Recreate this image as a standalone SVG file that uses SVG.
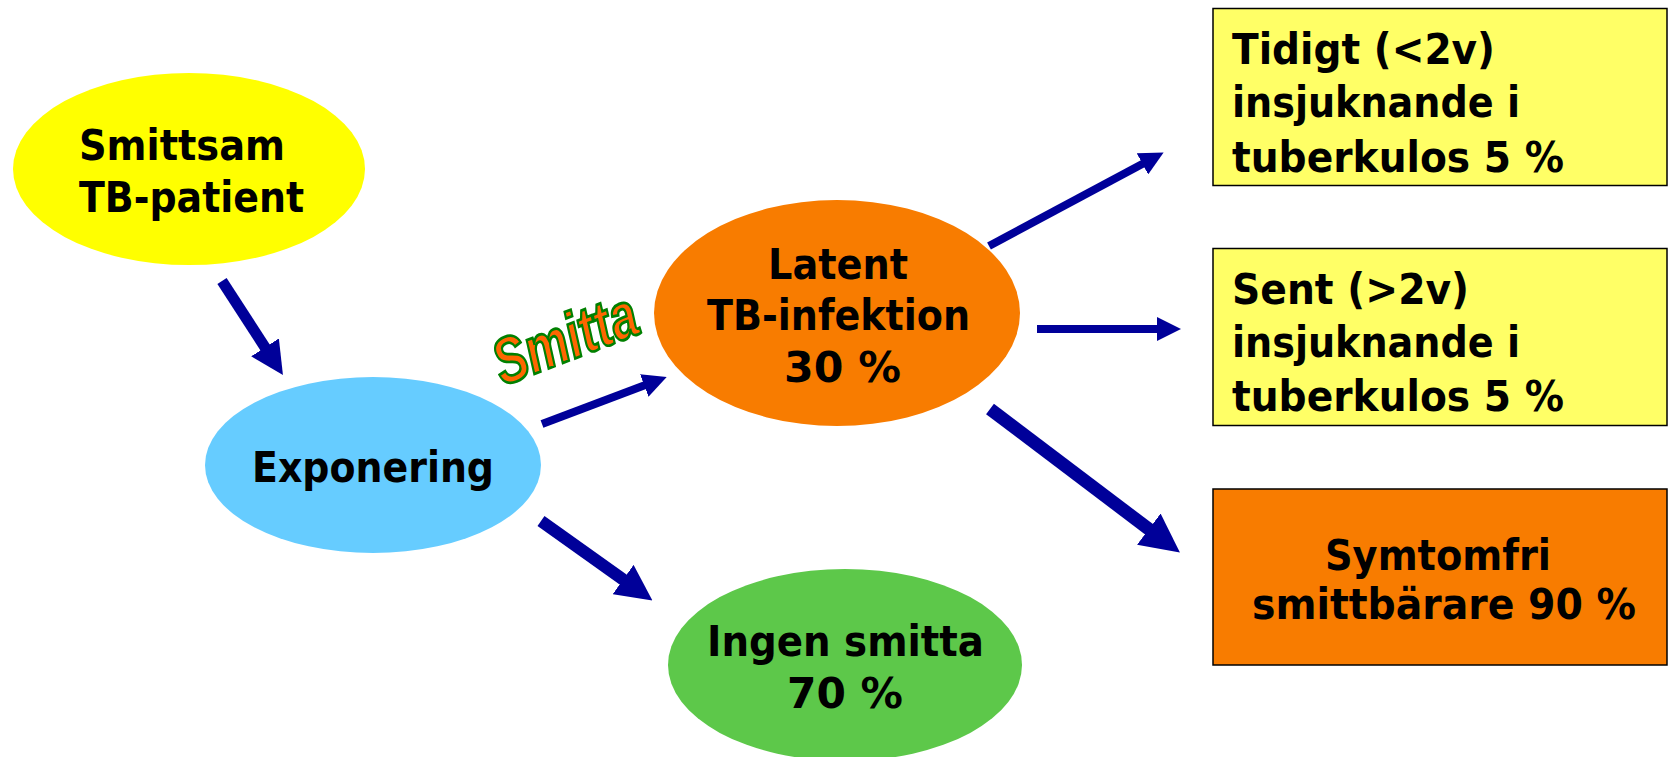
<svg xmlns="http://www.w3.org/2000/svg" width="1668" height="757" viewBox="0 0 1668 757">
<style>
.t{font-family:"DejaVu Sans","Liberation Sans",sans-serif;font-weight:bold;font-size:42px;fill:#000}
.box{stroke:#000;stroke-width:1.5}
.arr{stroke:#000099;fill:none;stroke-linecap:butt}
.smitta{font-family:"Liberation Sans",Arial,sans-serif;font-weight:bold;font-style:italic;font-size:58px;fill:#FF6600;stroke:#008000;stroke-width:2.5}
</style>
<defs>
<marker id="ah" viewBox="0 0 3 3" refX="0.5" refY="1.5" markerWidth="3" markerHeight="3" markerUnits="strokeWidth" orient="auto">
<path d="M0,0 L3,1.5 L0,3 z" fill="#000099"/>
</marker>
</defs>
<rect width="1668" height="757" fill="#fff"/>

<g id="connectors">
<line class="arr" x1="222" y1="281" x2="268" y2="352" stroke-width="11" marker-end="url(#ah)"/>
<line class="arr" x1="542" y1="424" x2="648" y2="384" stroke-width="8" marker-end="url(#ah)"/>
<line class="arr" x1="541" y1="521" x2="628" y2="583" stroke-width="12" marker-end="url(#ah)"/>
<line class="arr" x1="989" y1="246" x2="1146" y2="162" stroke-width="8" marker-end="url(#ah)"/>
<line class="arr" x1="1037" y1="329" x2="1161" y2="329" stroke-width="8" marker-end="url(#ah)"/>
<line class="arr" x1="990" y1="409" x2="1154" y2="533" stroke-width="13" marker-end="url(#ah)"/>
</g>

<g id="smittsam">
<ellipse cx="189" cy="169" rx="176" ry="96" fill="#FFFF00"/>
<text class="t" x="79" y="160" textLength="206" lengthAdjust="spacingAndGlyphs">Smittsam</text>
<text class="t" x="79" y="212" textLength="225" lengthAdjust="spacingAndGlyphs">TB-patient</text>
</g>

<g id="exponering">
<ellipse cx="373" cy="465" rx="168" ry="88" fill="#66CCFF"/>
<text class="t" x="252" y="482" textLength="242" lengthAdjust="spacingAndGlyphs">Exponering</text>
</g>

<g id="latent">
<ellipse cx="837" cy="313" rx="183" ry="113" fill="#F87C00"/>
<text class="t" x="768" y="279" textLength="140" lengthAdjust="spacingAndGlyphs">Latent</text>
<text class="t" x="707" y="330" textLength="263" lengthAdjust="spacingAndGlyphs">TB-infektion</text>
<text class="t" x="784" y="382" textLength="117" lengthAdjust="spacingAndGlyphs">30 %</text>
</g>

<g id="ingen">
<ellipse cx="845" cy="665" rx="177" ry="96" fill="#5DC84A"/>
<text class="t" x="707" y="656" textLength="277" lengthAdjust="spacingAndGlyphs">Ingen smitta</text>
<text class="t" x="787" y="708" textLength="116" lengthAdjust="spacingAndGlyphs">70 %</text>
</g>

<g id="smitta-label">
<text class="smitta" x="0" y="0" transform="translate(503,386) rotate(-21) scale(1,1.12)" textLength="150" lengthAdjust="spacingAndGlyphs">Smitta</text>
</g>

<g id="tidigt">
<rect class="box" x="1213" y="8.5" width="454" height="177" fill="#FFFF66"/>
<text class="t" x="1232" y="64" textLength="263" lengthAdjust="spacingAndGlyphs">Tidigt (&lt;2v)</text>
<text class="t" x="1232" y="117" textLength="288" lengthAdjust="spacingAndGlyphs">insjuknande i</text>
<text class="t" x="1232" y="172" textLength="332" lengthAdjust="spacingAndGlyphs">tuberkulos 5 %</text>
</g>

<g id="sent">
<rect class="box" x="1213" y="248.5" width="454" height="177" fill="#FFFF66"/>
<text class="t" x="1232" y="304" textLength="237" lengthAdjust="spacingAndGlyphs">Sent (&gt;2v)</text>
<text class="t" x="1232" y="357" textLength="288" lengthAdjust="spacingAndGlyphs">insjuknande i</text>
<text class="t" x="1232" y="411" textLength="332" lengthAdjust="spacingAndGlyphs">tuberkulos 5 %</text>
</g>

<g id="symtomfri">
<rect class="box" x="1213" y="489" width="454" height="176" fill="#F87C00"/>
<text class="t" x="1325" y="570" textLength="226" lengthAdjust="spacingAndGlyphs">Symtomfri</text>
<text class="t" x="1252" y="619" textLength="384" lengthAdjust="spacingAndGlyphs">smittbärare 90 %</text>
</g>
</svg>
